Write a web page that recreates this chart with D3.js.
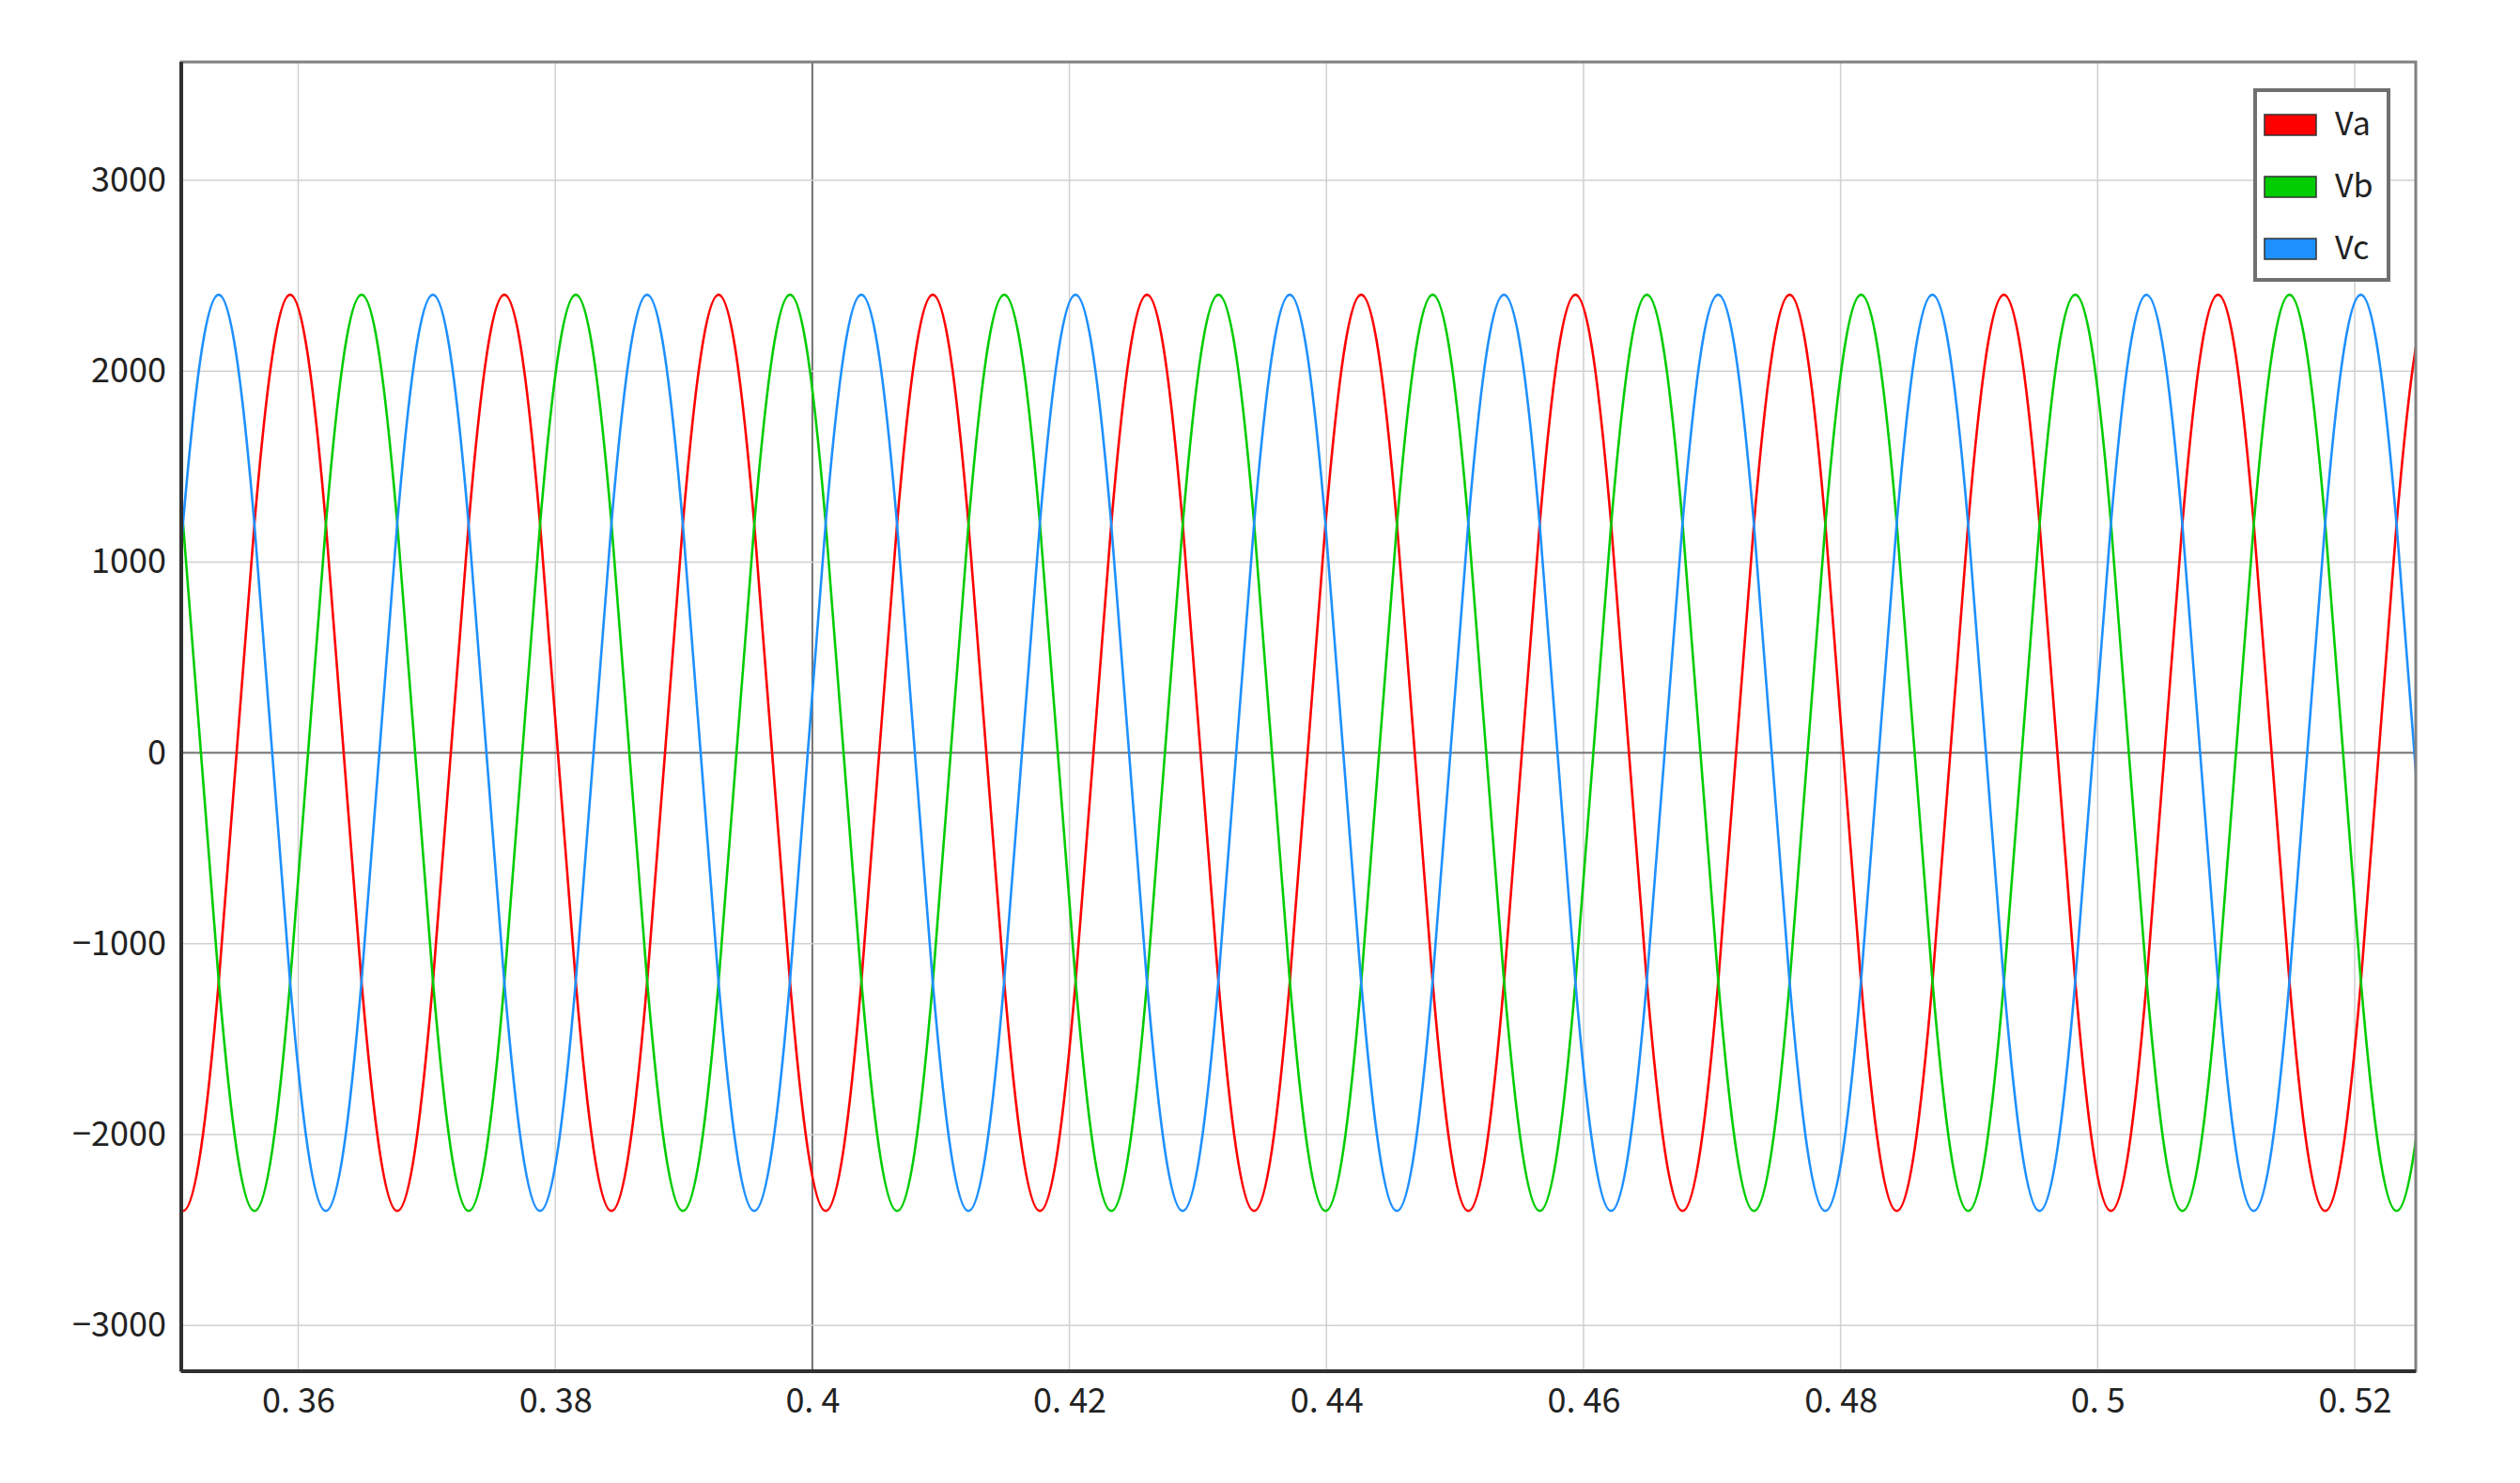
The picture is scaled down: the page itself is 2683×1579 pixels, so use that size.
<!DOCTYPE html>
<html><head><meta charset="utf-8">
<script src="https://cdn.jsdelivr.net/npm/d3@7"></script>
<style>body{margin:0;background:#fff}</style></head>
<body><svg id="c" width="2683" height="1579"></svg>
<script>
// Data
const seriesNames = ["Va","Vb","Vc"];
const seriesColors = ["#ff0000","#00cc00","#1e90ff"];
// time of a first positive peak for each phase (s)
const firstPeak = [0.35937, 0.36493, 0.35381];
// one cycle of values, read at 30° steps from a peak (V)
const cycleValues = [2400,2078,1200,0,-1200,-2078,-2400,-2078,-1200,0,1200,2078];
const samplesPerCycle = 12;
const cyclePeriod = 1/60;
const xTicks = [0.36,0.38,0.4,0.42,0.44,0.46,0.48,0.5,0.52];
const yTicks = [-3000,-2000,-1000,0,1000,2000,3000];
const xDomain = [0.3509, 0.52475];
const yDomain = [-3240, 3620];

const L=193,R=2572,T=66,B=1460;
const svg=d3.select("#c");
const x=d3.scaleLinear().domain(xDomain).range([L,R]);
const y=d3.scaleLinear().domain(yDomain).range([B,T]);
const font="'Noto Sans CJK SC', 'DejaVu Sans', sans-serif";

// grid
svg.append("g").selectAll("line").data(xTicks).join("line")
 .attr("x1",d=>x(d)).attr("x2",d=>x(d)).attr("y1",T).attr("y2",B)
 .attr("stroke",d=>d===0.4?"#707070":"#d0d0d0").attr("stroke-width",d=>d===0.4?2:1.5);
svg.append("g").selectAll("line").data(yTicks).join("line")
 .attr("y1",d=>y(d)).attr("y2",d=>y(d)).attr("x1",L).attr("x2",R)
 .attr("stroke",d=>d===0?"#707070":"#d0d0d0").attr("stroke-width",d=>d===0?2:1.5);

svg.append("defs").append("clipPath").attr("id","clip").append("rect")
 .attr("x",L).attr("y",T).attr("width",R-L).attr("height",B-T);

const line=d3.line().x(d=>x(d[0])).y(d=>y(d[1])).curve(d3.curveNatural);
seriesNames.forEach((n,i)=>{
  const pts=[];
  const kMin=Math.floor((xDomain[0]-firstPeak[i])/cyclePeriod*samplesPerCycle)-2;
  const kMax=Math.ceil((xDomain[1]-firstPeak[i])/cyclePeriod*samplesPerCycle)+2;
  for(let k=kMin;k<=kMax;k++){
    const idx=((k%samplesPerCycle)+samplesPerCycle)%samplesPerCycle;
    pts.push([firstPeak[i]+k*cyclePeriod/samplesPerCycle, cycleValues[idx]]);
  }
  svg.append("path").datum(pts).attr("d",line).attr("fill","none")
   .attr("stroke",seriesColors[i]).attr("stroke-width",2.6).attr("clip-path","url(#clip)");
});

// frame
svg.append("rect").attr("x",L).attr("y",T).attr("width",R-L).attr("height",B-T)
 .attr("fill","none").attr("stroke","#808080").attr("stroke-width",3);
svg.append("line").attr("x1",L).attr("x2",L).attr("y1",T).attr("y2",B).attr("stroke","#303030").attr("stroke-width",4);
svg.append("line").attr("x1",L).attr("x2",R).attr("y1",B).attr("y2",B).attr("stroke","#303030").attr("stroke-width",4);

// axes
const xa=svg.append("g").attr("transform",`translate(0,${B})`)
 .call(d3.axisBottom(x).tickValues(xTicks).tickSize(0).tickPadding(18).tickFormat(d=>String(d).replace(".",". ")));
const ya=svg.append("g").attr("transform",`translate(${L},0)`)
 .call(d3.axisLeft(y).tickValues(yTicks).tickSize(0).tickPadding(16).tickFormat(d=>d<0?"\u2212"+(-d):d));
[xa,ya].forEach(a=>{a.select(".domain").remove();a.selectAll("text").attr("font-family",font).attr("font-size",36).attr("fill","#222");});

// legend
const lg=svg.append("g");
lg.append("rect").attr("x",2401).attr("y",96).attr("width",142).attr("height",202)
 .attr("fill","#fff").attr("stroke","#707070").attr("stroke-width",4);
seriesNames.forEach((n,i)=>{
  const cy=132+i*66;
  lg.append("rect").attr("x",2411).attr("y",cy-10).attr("width",55).attr("height",22)
   .attr("fill",seriesColors[i]).attr("stroke","#333").attr("stroke-width",1.5);
  lg.append("text").attr("x",2486).attr("y",cy+12).text(n)
   .attr("font-family",font).attr("font-size",34).attr("fill","#222");
});
</script></body></html>
